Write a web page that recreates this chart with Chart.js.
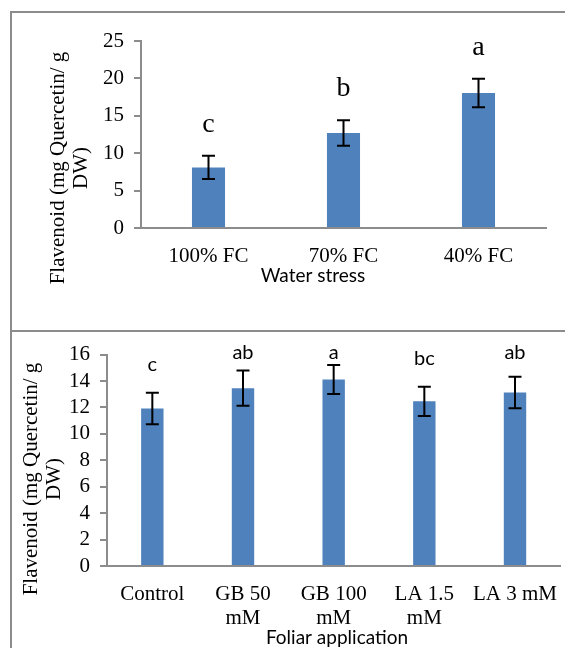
<!DOCTYPE html>
<html>
<head>
<meta charset="utf-8">
<script src="https://cdn.jsdelivr.net/npm/chart.js@4.4.1/dist/chart.umd.min.js"></script>
<style>
  html, body { margin: 0; padding: 0; width: 565px; height: 648px; overflow: hidden; background: #fff; }
  .panel { position: absolute; border-left: 2px solid #8c8c8c; border-top: 2px solid #8c8c8c; width: 700px; }
  canvas { position: absolute; left: 0; }
</style>
</head>
<body>
<div class="panel" style="left:10px; top:11px; height:330px;"></div>
<div class="panel" style="left:10px; top:330px; height:330px;"></div>
<canvas id="c1" width="565" height="332" style="top:0px;"></canvas>
<canvas id="c2" width="565" height="316" style="top:332px;"></canvas>
<script>
// ---- Data: Water stress panel ----
const waterCategories = ['100% FC', '70% FC', '40% FC'];
const waterValues = [8.1, 12.7, 18.05];
const waterErrors = [1.55, 1.7, 1.9];
const waterLetters = ['c', 'b', 'a'];

// ---- Data: Foliar application panel ----
const foliarCategories = ['Control', ['GB 50', 'mM'], ['GB 100', 'mM'], ['LA 1.5', 'mM'], 'LA 3 mM'];
const foliarValues = [11.92, 13.46, 14.12, 12.46, 13.13];
const foliarErrors = [1.2, 1.33, 1.1, 1.1, 1.2];
const foliarLetters = ['c', 'ab', 'a', 'bc', 'ab'];

const yTitleLines = ['Flavenoid (mg Quercetin/ g', 'DW)'];

const SERIF = "'Liberation Serif', 'Times New Roman', serif";
const SANS = "Lato, 'Open Sans', sans-serif";
const BAR = '#4f81bd';
const AXIS = '#8c8c8c';

const annotPlugin = {
  id: 'annot',
  afterDatasetsDraw(chart, args, opts) {
    const ctx = chart.ctx;
    const y = chart.scales.y;
    const meta = chart.getDatasetMeta(0);
    const data = chart.data.datasets[0].data;
    ctx.save();
    meta.data.forEach((bar, i) => {
      const v = data[i], e = opts.errors[i];
      const px = bar.x;
      const yt = y.getPixelForValue(v + e);
      const yb = y.getPixelForValue(v - e);
      ctx.strokeStyle = '#000';
      ctx.lineWidth = 2;
      ctx.beginPath();
      ctx.moveTo(px, yt); ctx.lineTo(px, yb);
      ctx.moveTo(px - opts.cap, yt); ctx.lineTo(px + opts.cap, yt);
      ctx.moveTo(px - opts.cap, yb); ctx.lineTo(px + opts.cap, yb);
      ctx.stroke();
      const ly = Math.max(yt - opts.letterGap, chart.chartArea.top + opts.letterMin);
      ctx.font = opts.letterFont;
      ctx.fillStyle = '#000';
      ctx.textAlign = 'center';
      ctx.textBaseline = 'alphabetic';
      ctx.fillText(opts.letters[i], px, ly);
    });
    ctx.restore();
  },
  afterDraw(chart, args, opts) {
    const ctx = chart.ctx;
    ctx.save();
    ctx.fillStyle = '#000';
    ctx.textAlign = 'center';
    ctx.textBaseline = 'middle';
    ctx.font = opts.yTitleFont;
    opts.yTitle.forEach((line, i) => {
      ctx.save();
      ctx.translate(opts.yTitleX + i * opts.yTitleGap, opts.yTitleY);
      ctx.rotate(-Math.PI / 2);
      ctx.fillText(line, 0, 0);
      ctx.restore();
    });
    ctx.font = opts.xTitleFont;
    ctx.fillText(opts.xTitle, opts.xTitleX, opts.xTitleY);
    ctx.restore();
  }
};

function makeChart(id, cfg) {
  return new Chart(document.getElementById(id), {
    type: 'bar',
    data: {
      labels: cfg.labels,
      datasets: [{
        data: cfg.values,
        backgroundColor: BAR,
        borderWidth: 0,
        barPercentage: cfg.barPct,
        categoryPercentage: 1
      }]
    },
    options: {
      responsive: false,
      animation: false,
      layout: { padding: cfg.padding },
      plugins: {
        legend: { display: false },
        tooltip: { enabled: false },
        annot: cfg.annot
      },
      scales: {
        x: {
          grid: { display: false },
          border: { display: true, color: AXIS, width: 2 },
          ticks: { color: '#000', font: { family: SERIF, size: 21, lineHeight: 1.15 }, padding: 8, autoSkip: false, maxRotation: 0, minRotation: 0 },
          afterFit(s) { s.height = cfg.xHeight; }
        },
        y: {
          min: 0, max: cfg.max,
          grid: { drawOnChartArea: false, drawTicks: true, tickLength: 7, color: AXIS, lineWidth: 2 },
          border: { display: true, color: AXIS, width: 2 },
          ticks: { stepSize: cfg.step, autoSkip: false, color: '#000', font: { family: SERIF, size: 21 }, padding: 10 },
          afterFit(s) { s.width = cfg.yWidth; }
        }
      }
    },
    plugins: [annotPlugin]
  });
}

makeChart('c1', {
  labels: waterCategories,
  values: waterValues,
  barPct: 0.245,
  max: 25, step: 5,
  padding: { left: 0, right: 19, top: 41, bottom: 0 },
  xHeight: 104,
  yWidth: 141,
  annot: {
    errors: waterErrors, letters: waterLetters, cap: 6.5,
    letterFont: '28px ' + SERIF, letterGap: 24, letterMin: -1000,
    yTitle: yTitleLines, yTitleFont: '21px ' + SERIF, yTitleX: 58, yTitleGap: 23, yTitleY: 168,
    xTitle: 'Water stress', xTitleFont: '19px ' + SANS, xTitleX: 313, xTitleY: 276
  }
});

makeChart('c2', {
  labels: foliarCategories,
  values: foliarValues,
  barPct: 0.247,
  max: 16, step: 2,
  padding: { left: 0, right: 0, top: 21, bottom: 0 },
  xHeight: 82,
  yWidth: 107,
  annot: {
    errors: foliarErrors, letters: foliarLetters, cap: 6.5,
    letterFont: '20px ' + SANS, letterGap: 22, letterMin: 4.7,
    yTitle: yTitleLines, yTitleFont: '21px ' + SERIF, yTitleX: 31, yTitleGap: 23, yTitleY: 147,
    xTitle: 'Foliar application', xTitleFont: '19px ' + SANS, xTitleX: 337, xTitleY: 306
  }
});
</script>
</body>
</html>
